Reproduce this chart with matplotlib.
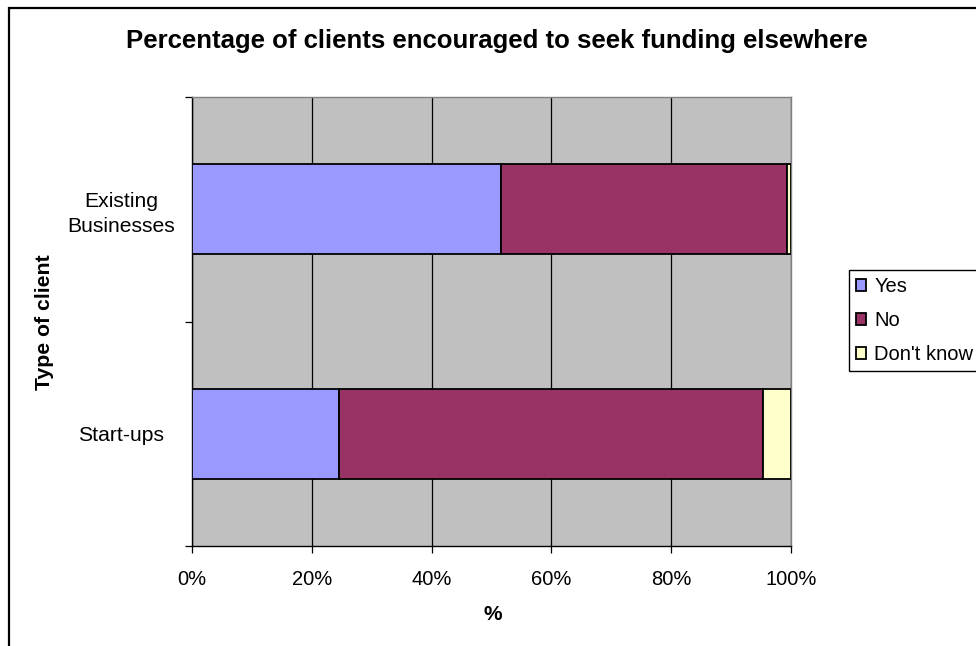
import matplotlib
matplotlib.use("Agg")
import matplotlib.pyplot as plt
from matplotlib.patches import Rectangle
from matplotlib.ticker import FixedLocator, PercentFormatter

plt.rcParams['font.family'] = ['Liberation Sans', 'DejaVu Sans']

# Data
categories = ["Start-ups", "Existing\nBusinesses"]
series_names = ["Yes", "No", "Don't know"]
yes_vals = [24.5, 51.6]
no_vals = [70.9, 47.8]
dont_know_vals = [4.6, 0.6]
x_ticks = [0, 20, 40, 60, 80, 100]

colors = ["#9999FF", "#993366", "#FFFFCC"]

W, H = 976, 646
fig = plt.figure(figsize=(W / 100, H / 100), dpi=100)
fig.patch.set_facecolor("white")

def px_x(x):
    return x / W

def px_y(y):
    return 1 - y / H

# Chart frame (extends beyond the right and bottom edges)
frame = Rectangle((px_x(9), px_y(660)), px_x(1000) - px_x(9), px_y(8) - px_y(660),
                  transform=fig.transFigure, fill=False, edgecolor="black",
                  linewidth=1.6, zorder=0)
fig.patches.append(frame)

ax = fig.add_axes([px_x(192), px_y(546), px_x(791) - px_x(192), px_y(97) - px_y(546)])
ax.set_facecolor("#C0C0C0")

ypos = list(range(len(categories)))
left = [0.0] * len(categories)
for name, vals, c in zip(series_names, [yes_vals, no_vals, dont_know_vals], colors):
    ax.barh(ypos, vals, left=left, height=0.4, color=c, edgecolor="black",
            linewidth=1.3, label=name, zorder=3)
    left = [l + v for l, v in zip(left, vals)]

ax.set_xlim(0, 100)
ax.set_ylim(-0.5, len(categories) - 0.5)

ax.set_xticks(x_ticks)
ax.xaxis.set_major_formatter(PercentFormatter(decimals=0))
ax.xaxis.grid(True, color="black", linewidth=0.9, zorder=1)
ax.set_axisbelow(True)

ax.set_yticks(ypos)
ax.set_yticklabels(categories, ha="center", multialignment="center")
for lbl in ax.get_yticklabels():
    lbl.set_linespacing(1.35)
ax.yaxis.set_minor_locator(FixedLocator([-0.5, 0.5, 1.5]))

ax.tick_params(axis="x", direction="out", length=5, width=0.9, pad=12,
               labelsize=14.5, colors="black")
ax.tick_params(axis="y", which="major", length=0, pad=51, labelsize=15.2)
ax.tick_params(axis="y", which="minor", direction="out", length=5, width=0.9)

for side in ["top", "right"]:
    ax.spines[side].set_color("#808080")
    ax.spines[side].set_linewidth(1.0)
for side in ["left", "bottom"]:
    ax.spines[side].set_color("black")
    ax.spines[side].set_linewidth(1.0)

# Titles
fig.text(px_x(497), px_y(48), "Percentage of clients encouraged to seek funding elsewhere",
         ha="center", va="baseline", fontsize=18.5, fontweight="bold")
fig.text(px_x(44), px_y(322), "Type of client", rotation=90, ha="center", va="center",
         fontsize=15.3, fontweight="bold")
fig.text(px_x(493), px_y(615), "%", ha="center", va="center",
         fontsize=15, fontweight="bold")

leg = ax.legend(loc="upper left", bbox_to_anchor=(px_x(849), px_y(270)),
                bbox_transform=fig.transFigure, fontsize=14.5, frameon=True,
                fancybox=False, edgecolor="black", framealpha=1,
                handlelength=0.5, handleheight=0.5, handletextpad=0.4,
                labelspacing=0.75, borderpad=0.35, borderaxespad=0)
leg.get_frame().set_linewidth(1.0)

fig.savefig("out.png", dpi=100)
